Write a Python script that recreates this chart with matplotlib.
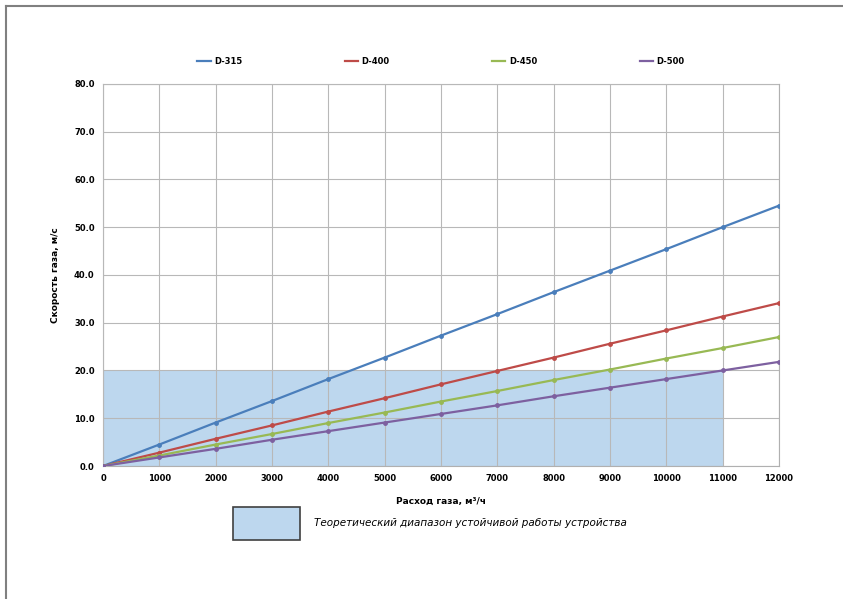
import matplotlib.pyplot as plt
from matplotlib.patches import Rectangle
from matplotlib.lines import Line2D

# расход газа, м3/ч
flow = [0, 1000, 2000, 3000, 4000, 5000, 6000, 7000, 8000, 9000, 10000, 11000, 12000]

# скорость газа, м/с
d315 = [0, 4.5, 9.1, 13.6, 18.2, 22.7, 27.3, 31.8, 36.4, 40.9, 45.4, 50.0, 54.5]
d400 = [0, 2.8, 5.7, 8.5, 11.4, 14.2, 17.1, 19.9, 22.7, 25.6, 28.4, 31.3, 34.1]
d450 = [0, 2.2, 4.5, 6.7, 9.0, 11.2, 13.5, 15.7, 18.0, 20.2, 22.5, 24.7, 27.0]
d500 = [0, 1.8, 3.6, 5.5, 7.3, 9.1, 10.9, 12.7, 14.6, 16.4, 18.2, 20.0, 21.8]

labels = ['D-315', 'D-400', 'D-450', 'D-500']
colors = ['#4a7ebb', '#be4b48', '#98b954', '#7d60a0']

# теоретический диапазон
zone_x = [0, 11000]
zone_y = [0, 20]

fig = plt.figure(figsize=(8.43, 5.99), dpi=100)
ax = fig.add_axes([0.1222, 0.222, 0.8018, 0.638])

ax.add_patch(Rectangle((zone_x[0], zone_y[0]), zone_x[1] - zone_x[0], zone_y[1] - zone_y[0],
                       facecolor='#bdd7ee', edgecolor='none', zorder=1))

handles = []
for y, lab, c in zip([d315, d400, d450, d500], labels, colors):
    ax.plot(flow, y, color=c, lw=1.6, marker='o', ms=2.5, zorder=3)
    handles.append(Line2D([0], [0], color=c, lw=1.6, label=lab))

ax.set_xlim(0, 12000)
ax.set_ylim(0, 80)
ax.set_xticks(flow)
ax.set_xticklabels([str(v) for v in flow])
ax.set_yticks(range(0, 81, 10))
ax.set_yticklabels([f'{v:.1f}' for v in range(0, 81, 10)])
ax.tick_params(labelsize=6, length=0, pad=6)
for lab in ax.get_xticklabels() + ax.get_yticklabels():
    lab.set_fontweight('bold')
ax.grid(True, color='#b8b8b8', lw=0.8, zorder=2)
ax.set_axisbelow(False)
for s in ax.spines.values():
    s.set_color('#b0b0b0')
    s.set_linewidth(0.8)

ax.set_xlabel('Расход газа, м³/ч', fontsize=6.5, fontweight='bold', labelpad=10)
ax.set_ylabel('Скорость газа, м/с', fontsize=6.5, fontweight='bold', labelpad=10)

fig.legend(handles=handles, loc='center', bbox_to_anchor=(0.523, 0.898), ncol=4,
           frameon=False, prop={'weight': 'bold', 'size': 6},
           handlelength=1.6, handletextpad=0.4, columnspacing=12.3)

# легенда для зоны
fig.patches.append(Rectangle((233 / 843, 1 - 540 / 599), 67 / 843, 33 / 599,
                             transform=fig.transFigure, facecolor='#bdd7ee',
                             edgecolor='#404040', lw=1.2))
fig.text(314 / 843, 1 - 523 / 599, 'Теоретический диапазон устойчивой работы устройства',
         fontsize=7.5, va='center', ha='left', style='italic')

# рамка
fig.add_artist(Line2D([6 / 843, 6 / 843], [1 - 6 / 599, 0], transform=fig.transFigure,
                      color='#808080', lw=1.5))
fig.add_artist(Line2D([6 / 843, 1], [1 - 6 / 599, 1 - 6 / 599], transform=fig.transFigure,
                      color='#808080', lw=1.5))

fig.savefig('out.png', dpi=100)
